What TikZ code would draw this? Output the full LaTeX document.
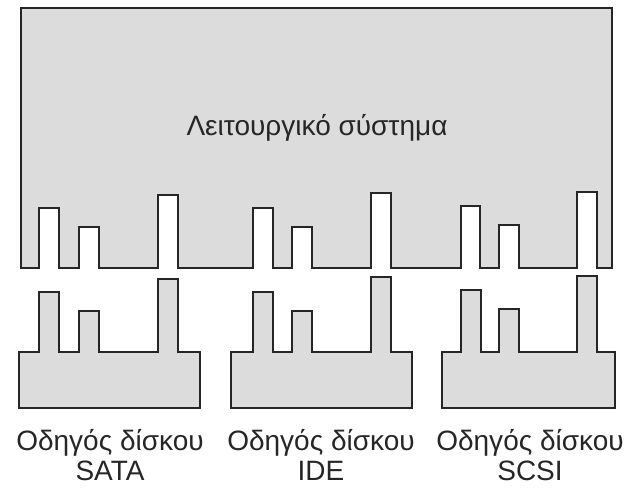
\documentclass[tikz,border=0pt]{standalone}
\usepackage{fontspec}
\setmainfont{Liberation Sans}
\usepackage{tikz}
\definecolor{boxfill}{HTML}{DCDCDC}
\definecolor{boxline}{HTML}{262626}
\tikzstyle{part} = [draw=boxline, fill=boxfill, line width=2.6pt, line join=miter]
\tikzstyle{label} = [align=center, font=\fontsize{28}{30}\selectfont, text=boxline, inner sep=0pt]

\begin{document}
\begin{tikzpicture}[x=1pt, y=-1pt]
      \useasboundingbox (0,0) rectangle (628,487);
      % operating system with its sockets
      \draw [part] (21,8) -- (612,8) -- (612,268) -- (597,268) -- (597,192) -- (577,192) -- (577,268)
        -- (519,268) -- (519,225) -- (499,225) -- (499,268) -- (480,268) -- (480,206) -- (461,206) -- (461,268)
        -- (391,268) -- (391,193) -- (371,193) -- (371,268) -- (312,268) -- (312,227) -- (292,227) -- (292,268)
        -- (273,268) -- (273,208) -- (253,208) -- (253,268) -- (178,268) -- (178,195) -- (158,195) -- (158,268)
        -- (99,268) -- (99,227) -- (79,227) -- (79,268) -- (59,268) -- (59,208) -- (39,208) -- (39,268)
        -- (21,268) -- cycle;
      \node [label] (os) at (317,128) {Λειτουργικό σύστημα};
      % drivers, plugged in from below
      \foreach \L/\R/\a/\b/\c/\ha/\hb/\hc in {19/200/39/79/158/292/311/279, 231/412/253/292/371/292/311/277, 442/615/461/499/577/290/309/276}{
        \draw [part] (\L,408) -- (\L,352) -- (\a,352) -- (\a,\ha) -- (\a+20,\ha) -- (\a+20,352)
          -- (\b,352) -- (\b,\hb) -- (\b+20,\hb) -- (\b+20,352)
          -- (\c,352) -- (\c,\hc) -- (\c+20,\hc) -- (\c+20,352) -- (\R,352) -- (\R,408) -- cycle;
      }
      \node [label] (sata) at (110,455) {Οδηγός δίσκου\\SATA};
      \node [label] (ide) at (321,455) {Οδηγός δίσκου\\IDE};
      \node [label] (scsi) at (530,455) {Οδηγός δίσκου\\SCSI};
\end{tikzpicture}
\end{document}
